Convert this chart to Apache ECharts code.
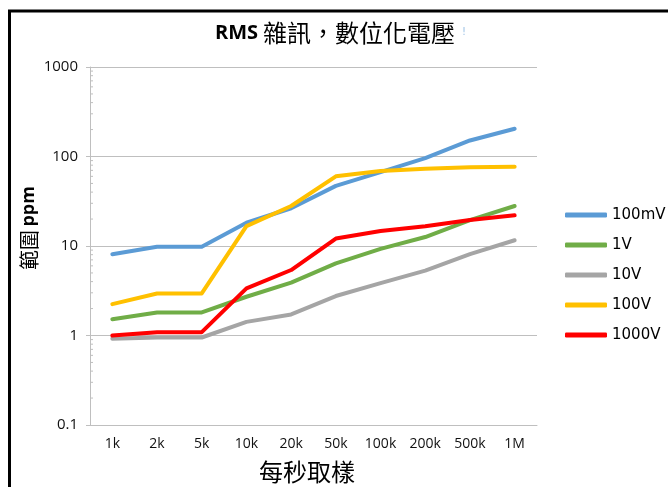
<!DOCTYPE html>
<html>
<head>
<meta charset="utf-8">
<script src="https://cdn.jsdelivr.net/npm/echarts@6/dist/echarts.min.js"></script>
<style>
  html, body { margin: 0; padding: 0; background: #ffffff; }
  #chart { width: 668px; height: 487px; }
</style>
</head>
<body>
<div id="chart"></div>
<script>
// Sample rates on the x axis
const categories = ['1k', '2k', '5k', '10k', '20k', '50k', '100k', '200k', '500k', '1M'];

// RMS noise (ppm of range) per input range
const noise100mV = [8.1, 9.8, 9.8, 18.2, 26.4, 47, 67, 96, 151, 204];
const noise1V    = [1.52, 1.81, 1.81, 2.71, 3.89, 6.4, 9.3, 12.6, 19.5, 28];
const noise10V   = [0.92, 0.95, 0.95, 1.42, 1.72, 2.76, 3.85, 5.3, 8.1, 11.6];
const noise100V  = [2.24, 2.95, 2.95, 16.7, 28, 60, 69, 73, 76, 76.6];
const noise1000V = [1.0, 1.09, 1.09, 3.36, 5.39, 12.1, 14.7, 16.6, 19.5, 22];

const seriesNames = ['100mV', '1V', '10V', '100V', '1000V'];

// Log-axis minor tick positions (2..9 within each decade)
const minorTickValues = [];
[0.1, 1, 10, 100].forEach(function (base) {
  for (let m = 2; m <= 9; m++) minorTickValues.push(+(base * m).toPrecision(3));
});

const colors = ['#5B9BD5', '#70AD47', '#A5A5A5', '#FFC000', '#FF0000'];
const gridGray = '#BFBFBF';

function lineSeries(name, data, color) {
  return {
    name: name,
    type: 'line',
    data: data,
    showSymbol: false,
    symbol: 'none',
    color: color,
    lineStyle: { width: 4, color: color, cap: 'round', join: 'round' },
    emphasis: { disabled: true },
    animation: false
  };
}

const chart = echarts.init(document.getElementById('chart'), null, { renderer: 'canvas' });

chart.setOption({
  backgroundColor: '#ffffff',
  animation: false,
  title: {
    text: '{a|RMS} {b|雜訊，數位化電壓}',
    left: 330,
    top: 14,
    textAlign: 'center',
    textStyle: {
      rich: {
        a: { fontFamily: 'Open Sans', fontWeight: 'bold', fontSize: 20, color: '#000', lineHeight: 28 },
        b: { fontFamily: 'Noto Sans CJK TC', fontWeight: 'normal', fontSize: 24, color: '#000', lineHeight: 28 }
      }
    }
  },
  legend: {
    data: seriesNames,
    orient: 'vertical',
    left: 560,
    top: 202,
    itemWidth: 42,
    itemHeight: 5,
    itemGap: 14,
    icon: 'roundRect',
    selectedMode: false,
    textStyle: { fontFamily: 'DejaVu Sans', fontSize: 15, color: '#000', lineHeight: 16 }
  },
  grid: { left: 90, right: 131, top: 67, bottom: 62, containLabel: false },
  xAxis: {
    type: 'category',
    data: categories,
    boundaryGap: true,
    axisLine: { show: true, lineStyle: { color: gridGray, width: 1 } },
    axisTick: { show: false },
    axisLabel: { margin: 12, fontFamily: 'Open Sans', fontSize: 14, color: '#111' },
    splitLine: { show: false }
  },
  yAxis: {
    type: 'log',
    logBase: 10,
    min: 0.1,
    max: 1000,
    axisLine: { show: true, lineStyle: { color: gridGray, width: 1 } },
    axisTick: { show: true, inside: false, length: 4, lineStyle: { color: gridGray } },
    axisLabel: {
      margin: 12,
      fontFamily: 'Open Sans',
      fontSize: 15,
      color: '#111',
      formatter: function (v) { return String(+v.toPrecision(3)); }
    },
    splitLine: { show: true, lineStyle: { color: gridGray, width: 1 } }
  },
  graphic: [
    {
      type: 'rect',
      silent: true,
      shape: { x: 9.5, y: 11, width: 700, height: 500 },
      style: { fill: 'none', stroke: '#000', lineWidth: 3 },
      z: 100
    },
    {
      type: 'text',
      silent: true,
      x: 464, y: 32,
      style: { text: '!', fill: '#9DC3E6', fontSize: 10, fontFamily: 'DejaVu Sans', align: 'center', verticalAlign: 'middle' }
    },
    {
      type: 'text',
      silent: true,
      x: 29, y: 228,
      rotation: Math.PI / 2,
      style: {
        text: '{c|範圍} {d|ppm}',
        align: 'center',
        verticalAlign: 'middle',
        rich: {
          c: { fontFamily: 'Noto Sans CJK TC', fontSize: 20, fill: '#000' },
          d: { fontFamily: 'Open Sans', fontWeight: 'bold', fontSize: 18, fill: '#000' }
        }
      }
    },
    {
      type: 'text',
      silent: true,
      x: 307, y: 472,
      style: {
        text: '每秒取樣',
        fill: '#000',
        fontFamily: 'Noto Sans CJK TC',
        fontSize: 24,
        align: 'center',
        verticalAlign: 'middle'
      }
    }
  ],
  series: [
    {
      name: 'minorTicks',
      type: 'custom',
      silent: true,
      z: 1,
      data: minorTickValues.map(function (v) { return [0, v]; }),
      encode: { x: 0, y: 1 },
      renderItem: function (params, api) {
        const pt = api.coord([0, api.value(1)]);
        const x0 = params.coordSys.x;
        return {
          type: 'line',
          shape: { x1: x0, y1: pt[1], x2: x0 + 3, y2: pt[1] },
          style: { stroke: gridGray, lineWidth: 1 }
        };
      }
    },
    lineSeries('100mV', noise100mV, colors[0]),
    lineSeries('1V', noise1V, colors[1]),
    lineSeries('10V', noise10V, colors[2]),
    lineSeries('100V', noise100V, colors[3]),
    lineSeries('1000V', noise1000V, colors[4])
  ]
});
</script>
</body>
</html>
